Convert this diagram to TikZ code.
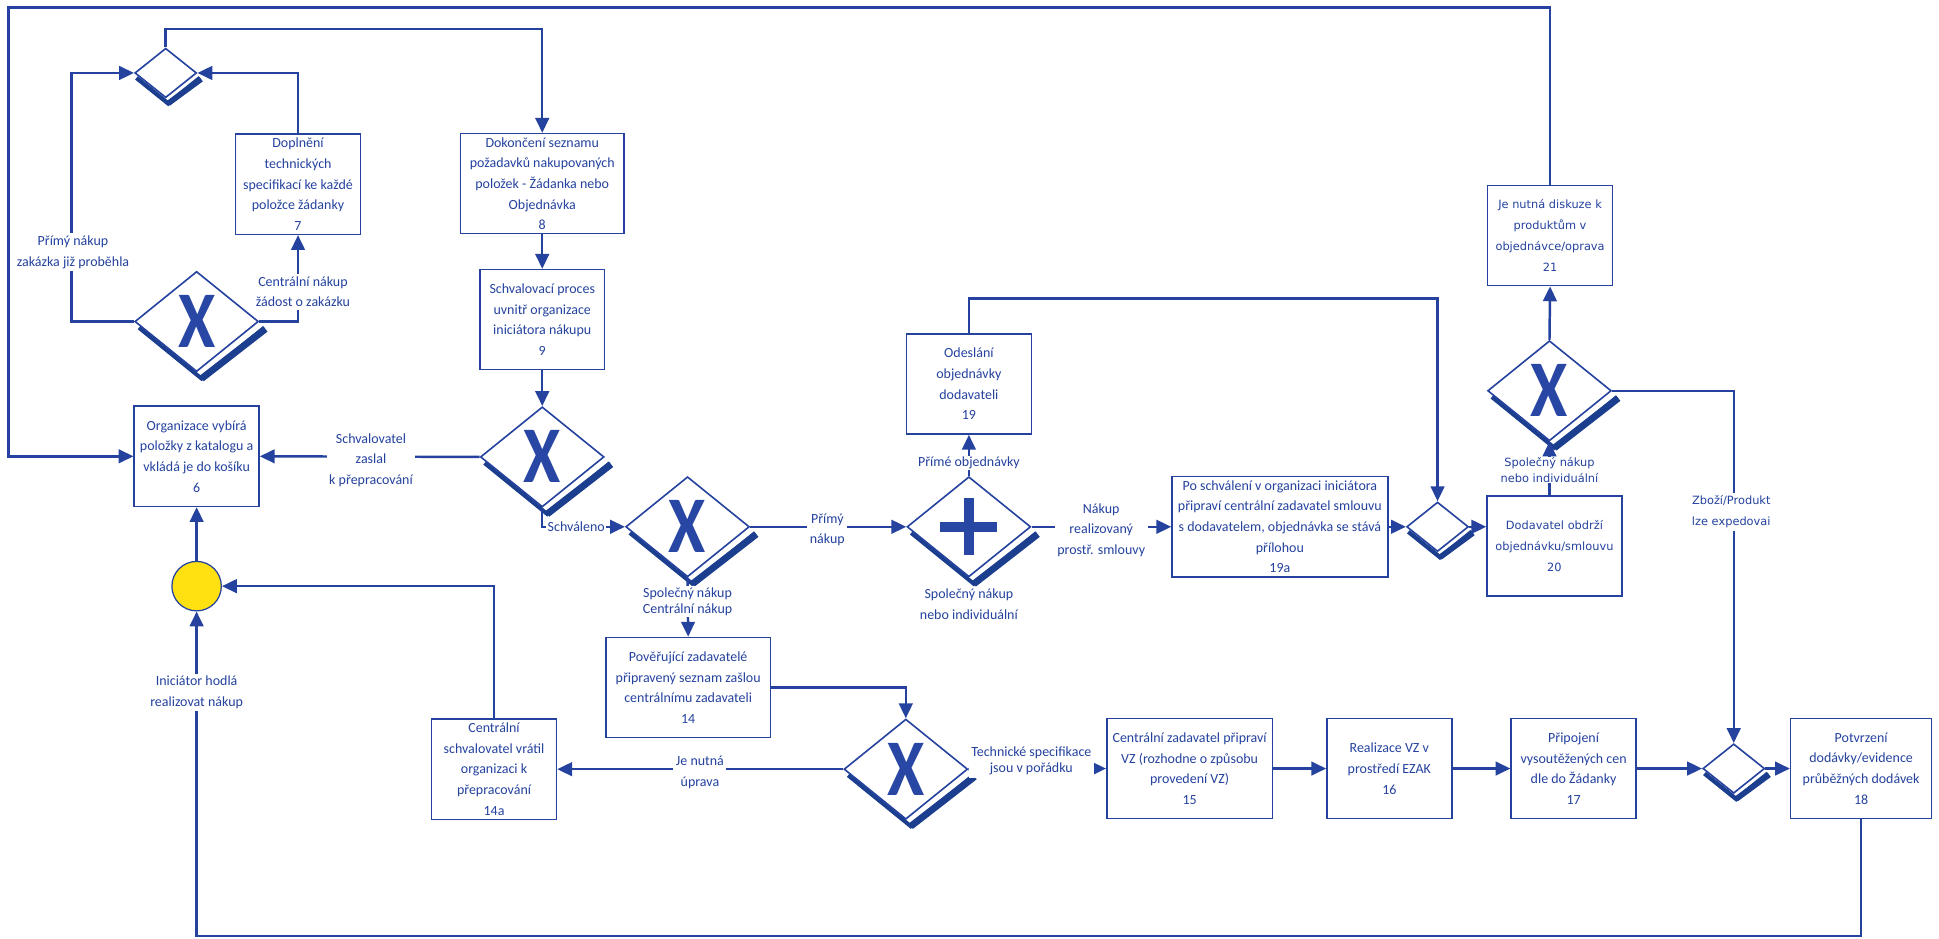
\documentclass[tikz,border=0pt]{standalone}
\usepackage{fontspec}
\setmainfont{Carlito}
\newfontfamily\verdfont{DejaVu Sans}
\usepackage{tikz}
\usetikzlibrary{arrows.meta}
\usetikzlibrary{backgrounds}
\usetikzlibrary{shapes.geometric}

\definecolor{bpblue}{RGB}{36,66,158}
\definecolor{bpx}{RGB}{40,70,164}
\definecolor{bpdark}{RGB}{27,62,142}
\definecolor{bpyellow}{RGB}{255,225,18}

\newcommand{\boxfont}{\fontsize{11.3}{16.7}\selectfont}
\newcommand{\tightfont}{\fontsize{11.3}{13.4}\selectfont}
\newcommand{\verdboxfont}{\verdfont\fontsize{9.2}{16.8}\selectfont}
\newcommand{\gatex}{\scalebox{0.84}[1]{X}}

\begin{document}
\begin{tikzpicture}[x=1pt, y=-1pt,
	task/.style={draw=bpblue, line width=1.2pt, inner sep=0pt, minimum width=101pt,
	             minimum height=81pt, align=center, text=bpblue, font=\boxfont},
	gate/.style={diamond, draw=bpblue, fill=white, line width=1.3pt, inner sep=0pt,
	             minimum width=100pt, minimum height=81pt},
	xgate/.style={gate, text=bpx, font=\fontsize{65}{65}\selectfont\bfseries},
	merge/.style={gate, minimum width=50pt, minimum height=40pt},
	lbl/.style={fill=white, inner sep=2pt, align=center, text=bpblue, font=\boxfont},
	flow/.style={draw=bpblue, line width=2pt, ->},
	>={Triangle[length=12pt, width=11pt]}]

	\useasboundingbox (0,0) rectangle (1568,759);

	% tasks
	\begin{scope}[every node/.style={task}]
		\node (b6) at (159,369) {Organizace vybírá\\položky z katalogu a\\vkládá je do košíku\\6};
		\node (b7) at (241,149) {Doplnění\\technických\\specifikací ke každé\\položce žádanky\\7};
		\node[minimum width=132pt] (b8) at (438.5,148.5) {Dokončení seznamu\\požadavků nakupovaných\\položek - Žádanka nebo\\Objednávka\\8};
		\node (b9) at (438.5,258.5) {Schvalovací proces\\uvnitř organizace\\iniciátora nákupu\\9};
		\node[minimum width=133pt] (b14) at (556.5,556) {Pověřující zadavatelé\\připravený seznam zašlou\\centrálnímu zadavateli\\14};
		\node (b14a) at (399.5,622) {Centrální\\schvalovatel vrátil\\organizaci k\\přepracování\\14a};
		\node[minimum width=134pt] (b15) at (962,621.5) {Centrální zadavatel připraví\\VZ (rozhodne o způsobu\\provedení VZ)\\15};
		\node (b16) at (1123.5,621.5) {Realizace VZ v\\prostředí EZAK\\16};
		\node (b17) at (1272.5,621.5) {Připojení\\vysoutěžených cen\\dle do Žádanky\\17};
		\node[minimum width=114pt] (b18) at (1505,621.5) {Potvrzení\\dodávky/evidence\\průběžných dodávek\\18};
		\node (b19) at (783.5,310.5) {Odeslání\\objednávky\\dodavateli\\19};
		\node[minimum width=174.5pt] (b19a) at (1035,426) {Po schválení v organizaci iniciátora\\připraví centrální zadavatel smlouvu\\s dodavatelem, objednávka se stává\\přílohou\\19a};
		\node[minimum width=109pt, font=\verdboxfont] (b20) at (1257,441.5) {Dodavatel obdrží\\objednávku/smlouvu\\20};
		\node[font=\verdboxfont] (b21) at (1253.5,190.5) {Je nutná diskuze k\\produktům v\\objednávce/oprava\\21};
	\end{scope}

	% gateways
	\node[merge] (gM) at (134,59) {};
	\node[xgate] (gA) at (159,260) {\gatex};
	\node[xgate] (gB) at (438.5,369.5) {\gatex};
	\node[xgate] (gC) at (556,426) {\gatex};
	\node[gate] (gD) at (783.5,426) {};
	\node[xgate] (gE) at (732.5,622) {\gatex};
	\node[xgate] (gG) at (1253,316) {\gatex};
	\node[merge] (gH) at (1162.5,426) {};
	\node[merge] (gF) at (1402,621.5) {};
	\fill[bpx] ([shift={(-4,-23)}]gD.center) rectangle ([shift={(4,23)}]gD.center);
	\fill[bpx] ([shift={(-23,-4)}]gD.center) rectangle ([shift={(23,4)}]gD.center);

	\node[circle, draw=bpblue, fill=bpyellow, line width=1pt, minimum size=40pt, inner sep=0pt] (start) at (159,474) {};

	% gateway shadows
	\begin{scope}[on background layer]
		\foreach \g in {gA,gB,gC,gD,gE,gG} {
			\draw[bpdark, line width=3.2pt, line join=miter] ([shift={(4,5)}]\g.west) -- ([shift={(4,5)}]\g.south) -- ([shift={(4,5)}]\g.east);
			\draw[bpdark, line width=5.5pt] ([shift={(4,5)}]\g.south) -- ([shift={(5,6)}]\g.east);
		}
		\foreach \g in {gM,gH,gF} {
			\draw[bpdark, line width=3.5pt, line join=miter] ([shift={(2,4)}]\g.west) -- ([shift={(2,4)}]\g.south) -- ([shift={(2,4)}]\g.east);
			\draw[bpdark, line width=4.5pt] ([shift={(2,4)}]\g.south) -- ([shift={(3,5)}]\g.east);
		}
	\end{scope}

	\coordinate (loopL) at (7,6);
	\coordinate (topM) at (134,23.5);
	\coordinate (leftA) at (58,59);
	\coordinate (top19) at (783.5,241.5);
	\coordinate (botR) at (1505,757);

	% flows
	\begin{scope}[every edge/.style={draw=bpblue, line width=2pt}]
		\draw[flow] (b21.north) |- (loopL) |- (b6.west);
		\draw[flow] (gM.north) -- (topM) -| (b8.north);
		\draw[flow] (gA.west) -| (leftA) -- (gM.west);
		\draw[flow] (gA.east) -| (b7.south);
		\draw[flow] (b7.north) |- (gM.east);
		\path (b8.south) edge[->] (b9.north);
		\path (b9.south) edge[->] (gB.north);
		\path (gB.west) edge[->] (b6.east);
		\draw[flow] (gB.south) |- (gC.west);
		\path (gC.east) edge[->] (gD.west);
		\path (gC.south) edge[->] (b14.north);
		\path (gD.north) edge[->] (b19.south);
		\path (gD.east) edge[->] (b19a.west);
		\draw[flow] (b19.north) -- (top19) -| (gH.north);
		\path (b19a.east) edge[->] (gH.west);
		\draw[flow] (gH.east) -- (gH.east -| b20.west);
		\draw[flow] (b20.north -| gG.south) -- (gG.south);
		\path (gG.north) edge[->] (b21.south);
		\draw[flow] (gG.east) -| (gF.north);
		\draw[flow] (b14.east) -| (gE.north);
		\path (gE.west) edge[->] (b14a.east);
		\path (gE.east) edge[->] (b15.west);
		\path (b15.east) edge[->] (b16.west);
		\path (b16.east) edge[->] (b17.west);
		\path (b17.east) edge[->] (gF.west);
		\path (gF.east) edge[->] (b18.west);
		\draw[flow] (b18.south) -- (botR) -| (start.south);
		\draw[flow] (b14a.north) |- (start.east);
		\path (start.north) edge[->] (b6.south);
	\end{scope}

	% labels
	\begin{scope}[every node/.style={lbl}]
		\node (lPrimy) at (59,204) {Přímý nákup\\zakázka již proběhla};
		\node (lCentr) at (245,236) {Centrální nákup\\žádost o zakázku};
		\node (lZaslal) at (300,372) {Schvalovatel\\zaslal\\k přepracování};
		\node[inner sep=1pt] (lSchv) at (466,426) {Schváleno};
		\node (lPrimyN) at (669,428.5) {Přímý\\nákup};
		\node[inner sep=1pt] (lObj) at (783.5,374.5) {Přímé objednávky};
		\node (lSpolD) at (783.5,488.7) {Společný nákup\\nebo individuální};
		\node[font=\tightfont, inner sep=1pt] (lSpolC) at (556,486.5) {Společný nákup\\Centrální nákup};
		\node (lNakup) at (890.5,428.6) {Nákup\\realizovaný\\prostř. smlouvy};
		\node (lInic) at (159,560) {Iniciátor hodlá\\realizovat nákup};
		\node (lUprava) at (566,624.5) {Je nutná\\úprava};
		\node[font=\tightfont] (lTech) at (834,615.3) {Technické specifikace\\jsou v pořádku};
		\node[font=\verdfont\fontsize{9.2}{12.4}\selectfont, inner sep=0.5pt] (lSpolG) at (1253,380.2) {Společný nákup\\nebo individuální};
		\node[font=\verdfont\fontsize{9.2}{16.8}\selectfont] (lZbozi) at (1400,414) {Zboží/Produkt\\lze expedovai};
	\end{scope}
\end{tikzpicture}
\end{document}
